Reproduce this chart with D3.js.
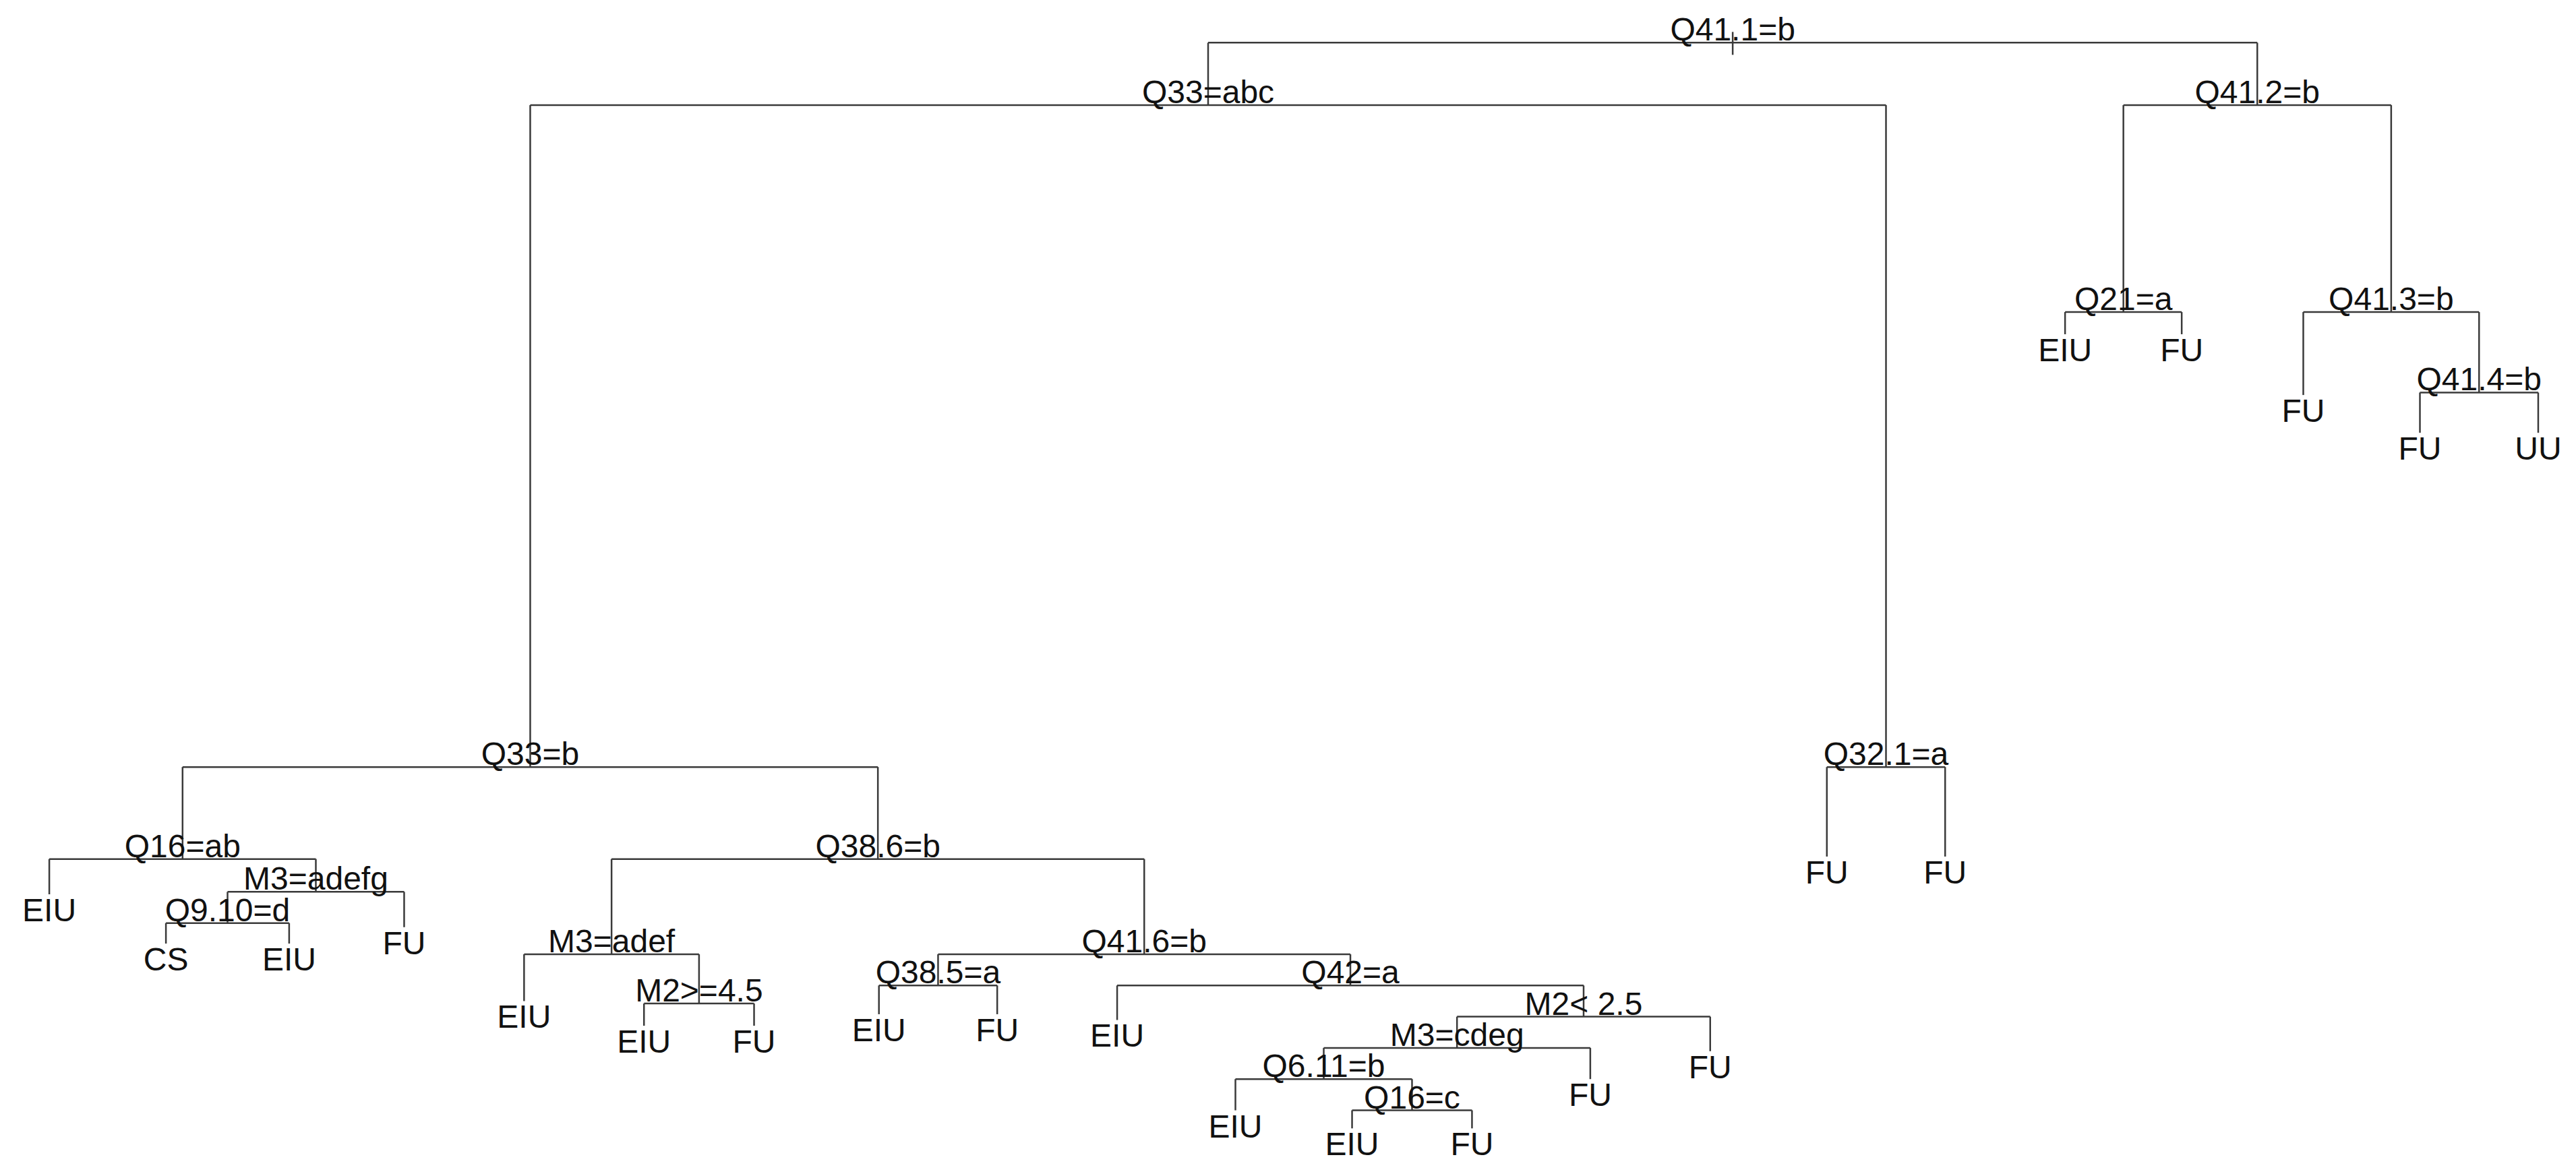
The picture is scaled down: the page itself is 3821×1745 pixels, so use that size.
<!DOCTYPE html>
<html><head><meta charset="utf-8">
<script src="https://cdn.jsdelivr.net/npm/d3@7"></script>
<style>html,body{margin:0;padding:0;background:#fff;overflow:hidden}</style>
</head><body>
<svg id="c" width="3821" height="1745"></svg>
<script>
// node ids are array indices; parent -1 = root
const nodeLabels = ["Q41.1=b","Q33=abc","Q41.2=b","Q33=b","Q32.1=a","Q21=a","Q41.3=b","EIU","FU","FU","Q41.4=b","FU","UU","FU","FU",
 "Q16=ab","Q38.6=b","EIU","M3=adefg","Q9.10=d","FU","CS","EIU","M3=adef","Q41.6=b","EIU","M2>=4.5","EIU","FU",
 "Q38.5=a","Q42=a","EIU","FU","EIU","M2< 2.5","M3=cdeg","FU","Q6.11=b","FU","EIU","Q16=c","EIU","FU"];
const nodeParents = [-1,0,0,1,1,2,2,5,5,6,6,10,10,4,4,
 3,3,15,15,18,18,19,19,16,16,23,23,26,26,
 24,24,29,29,30,30,34,34,35,35,37,37,40,40];
// tree depth (plot units) of each node
const nodeY = [26,64,64,467,467,190,190,203.5,203.5,240.5,239,263.5,263.5,521.5,521.5,
 523,523,544.5,543,562,564.5,574.5,574.5,581,581,609.5,611,624.5,624.5,
 600,600,617.5,617.5,621,619,638,640,657,657,676,676,687,687];
// horizontal position of leaves (plot units); internal nodes = mean of children
const leafX = {7:1257,8:1328,9:1402,11:1473,12:1545,13:1112,14:1184,17:30,20:246,21:101,22:176,
 25:319,27:392,28:459,31:535,32:607,33:680,36:1041,38:968,39:752,41:823,42:896};

const W=3821,H=1745;
const sx=d3.scaleLinear().domain([0,1568]).range([0,W]);
const sy=d3.scaleLinear().domain([0,716]).range([0,H]);
const svg=d3.select("#c");
const n=nodeLabels.length;
const kids=d3.range(n).map(()=>[]);
nodeParents.forEach((p,i)=>{if(p>=0)kids[p].push(i);});
const X=new Array(n);
function px(i){ if(X[i]!==undefined) return X[i];
  X[i]= kids[i].length? d3.mean(kids[i].map(px)) : leafX[i]; return X[i]; }
d3.range(n).forEach(px);

const g=svg.append("g").attr("stroke","#3a3a3a").attr("stroke-width",2.5).attr("fill","none");
d3.range(n).forEach(i=>{
  if(kids[i].length){
    const xs=kids[i].map(k=>X[k]);
    g.append("line").attr("x1",sx(d3.min(xs))).attr("x2",sx(d3.max(xs)))
      .attr("y1",sy(nodeY[i])).attr("y2",sy(nodeY[i]));
    kids[i].forEach(k=>g.append("line").attr("x1",sx(X[k])).attr("x2",sx(X[k]))
      .attr("y1",sy(nodeY[i])).attr("y2",sy(nodeY[k])));
  }
});
// root stub
g.append("line").attr("x1",sx(X[0])).attr("x2",sx(X[0])).attr("y1",sy(nodeY[0])-16).attr("y2",sy(nodeY[0])+18);

const t=svg.append("g").attr("font-family","'Liberation Sans',Arial,sans-serif")
  .attr("font-size",48).attr("fill","#111").attr("text-anchor","middle");
d3.range(n).forEach(i=>{
  const leaf=!kids[i].length;
  t.append("text").attr("x",sx(X[i]))
   .attr("y", leaf? sy(nodeY[i])+40 : sy(nodeY[i])-3)
   .text(nodeLabels[i]);
});
</script>
</body></html>
